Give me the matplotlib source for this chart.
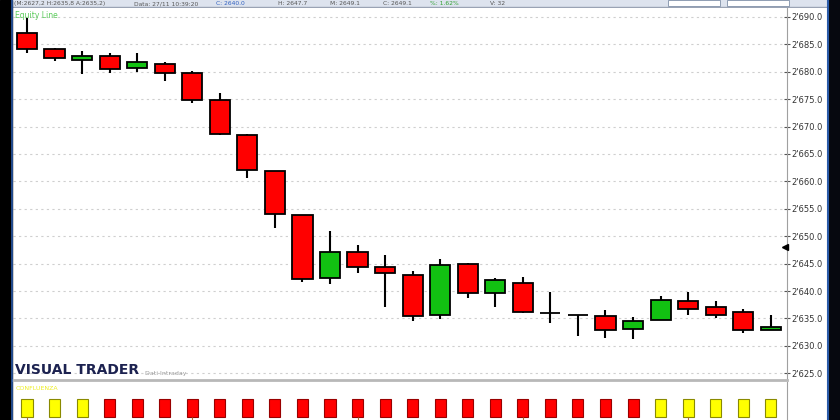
import matplotlib
matplotlib.use("Agg")
import matplotlib.pyplot as plt
from matplotlib.patches import Rectangle
from matplotlib.lines import Line2D
import matplotlib.transforms as mtransforms

# candle data (28 intraday bars)
opens  = [2687.0, 2684.1, 2682.2, 2682.9, 2680.7, 2681.5, 2679.8, 2674.9, 2668.5, 2661.9,
          2653.9, 2642.4, 2647.1, 2644.3, 2642.9, 2635.7, 2644.9, 2639.6, 2641.5, 2635.9,
          2635.7, 2635.4, 2633.1, 2634.7, 2638.2, 2637.1, 2636.1, 2632.8]
highs  = [2689.8, 2684.3, 2683.8, 2683.4, 2683.4, 2681.7, 2680.2, 2676.1, 2668.6, 2661.9,
          2653.9, 2651.0, 2648.4, 2646.5, 2643.6, 2645.9, 2645.2, 2642.4, 2642.6, 2639.9,
          2635.7, 2636.5, 2635.2, 2639.0, 2639.9, 2638.2, 2636.8, 2635.6]
lows   = [2683.5, 2682.0, 2679.6, 2679.7, 2679.9, 2678.4, 2674.3, 2668.4, 2660.7, 2651.5,
          2641.7, 2641.3, 2643.3, 2637.1, 2634.5, 2634.8, 2638.8, 2637.1, 2635.9, 2634.2,
          2631.8, 2631.4, 2631.2, 2634.7, 2635.6, 2635.1, 2632.4, 2632.8]
closes = [2684.1, 2682.5, 2682.9, 2680.6, 2681.8, 2679.7, 2674.8, 2668.6, 2662.0, 2654.1,
          2642.2, 2647.2, 2644.3, 2643.2, 2635.4, 2644.7, 2639.6, 2642.0, 2636.1, 2635.9,
          2635.7, 2632.9, 2634.5, 2638.4, 2636.8, 2635.7, 2632.9, 2633.5]

# confluenza indicator: 1 = yellow, -1 = red
confluenza = [1, 1, 1] + [-1] * 20 + [1] * 5

last_marker = 2648.0
yticks = [2625, 2630, 2635, 2640, 2645, 2650, 2655, 2660, 2665, 2670, 2675, 2680, 2685, 2690]

# header info line: (text, colour, x pixel)
header = [("(M:2627,2 H:2635,8 A:2635,2)", "#555555", 14),
          ("Data: 27/11 10:39:20", "#555555", 134),
          ("C: 2640.0", "#3060c0", 216),
          ("H: 2647.7", "#555555", 278),
          ("M: 2649.1", "#555555", 330),
          ("C: 2649.1", "#555555", 383),
          ("%: 1.62%", "#30a030", 430),
          ("V: 32", "#555555", 490)]

W, H = 840, 420
fig = plt.figure(figsize=(8.4, 4.2), dpi=100)
fig.patch.set_facecolor("white")

def fx(px):
    return px / W

def fy(py):
    return 1 - py / H

x = list(range(len(opens)))
xlim = (-0.508, 27.59)

# ---- main price panel
ax = fig.add_axes([fx(13), fy(380), fx(787 - 13), (380 - 8) / H])
ax.set_xlim(*xlim)
ax.set_ylim(2623.76, 2691.64)
ax.set_facecolor("white")
for yt in yticks:
    ax.axhline(yt, color="#cfcfcf", lw=0.8, ls=(0, (2, 3)), zorder=0)

ax.vlines(x, lows, highs, color="black", lw=1.5, zorder=2)
for i in x:
    o, c = opens[i], closes[i]
    if c < o:
        fc = "#ff0000"
    elif c > o:
        fc = "#12c212"
    else:
        fc = "black"
    ax.bar(i, abs(c - o), bottom=min(o, c), width=0.73, color=fc,
           edgecolor="black", linewidth=1.3, zorder=3)

ax.yaxis.tick_right()
ax.set_yticks(yticks)
ax.set_yticklabels(["2'%s" % f"{v:.1f}"[1:] for v in yticks])
ax.tick_params(axis="y", direction="inout", length=5, width=0.8, color="#555555",
               labelsize=6, labelcolor="#333333", pad=1)
ax.set_xticks([])
for s in ["left", "top", "bottom"]:
    ax.spines[s].set_visible(False)
ax.spines["right"].set_color("#a0a0a0")
ax.spines["right"].set_linewidth(0.8)

trans = mtransforms.blended_transform_factory(ax.transAxes, ax.transData)
ax.plot(0.997, last_marker, marker="<", color="black", markersize=4, transform=trans,
        clip_on=False, zorder=5)

fig.text(fx(15), fy(16), "Equity Line", color="#5acb5a", fontsize=5.5, va="center")
fig.text(fx(15), fy(370), "VISUAL TRADER", color="#1c2250", fontsize=10,
         fontweight="bold", va="center")
fig.text(fx(145), fy(373), "Dati Intraday", color="#999999", fontsize=4.5, va="center")

# separator between panels
fig.add_artist(Line2D([fx(13), fx(787)], [fy(380), fy(380)], color="#b8b8b8", lw=2))

# ---- confluenza panel
ax2 = fig.add_axes([fx(13), 0, fx(787 - 13), (420 - 382) / H])
ax2.set_xlim(*xlim)
ax2.set_ylim(0, 1)
colors2 = ["#ffff00" if v > 0 else "#ff0000" for v in confluenza]
edges2 = ["#8a8a00" if v > 0 else "#990000" for v in confluenza]
ax2.bar(x, [0.474] * len(x), bottom=0.079, width=0.4, color=colors2,
        edgecolor=edges2, linewidth=0.8)
ax2.vlines(x[::6], 0, 0.07, color="#b07030", lw=0.8)
ax2.text(0.003, 0.84, "CONFLUENZA", transform=ax2.transAxes, color="#eeee22",
         fontsize=4.5, va="center")
ax2.set_xticks([])
ax2.set_yticks([])
for s in ["left", "top", "bottom"]:
    ax2.spines[s].set_visible(False)
ax2.spines["right"].set_color("#a0a0a0")
ax2.spines["right"].set_linewidth(0.8)

# ---- window chrome: header strip and dark side bands
hdr = fig.add_axes([0, fy(8), 1, 8 / H])
hdr.set_xlim(0, W)
hdr.set_ylim(8, 0)
hdr.axis("off")
hdr.add_patch(Rectangle((0, 0), W, 8, color="#dde3ee"))
hdr.add_patch(Rectangle((0, 7), W, 1, color="#9aa3b4"))
for txt, col, px in header:
    hdr.text(px, 3.6, txt, fontsize=4.3, color=col, va="center")
hdr.add_patch(Rectangle((668, 0), 52, 6, facecolor="white", edgecolor="#8090a8", lw=0.6))
hdr.add_patch(Rectangle((727, 0), 62, 6, facecolor="white", edgecolor="#8090a8", lw=0.6))

fig.add_artist(Rectangle((0, 0), fx(12), 1, color="black", transform=fig.transFigure))
fig.add_artist(Line2D([fx(12), fx(12)], [0, 1], color="#2a5aa8", lw=1.2))
fig.add_artist(Rectangle((fx(828), 0), fx(12), 1, color="#06080f", transform=fig.transFigure))
fig.add_artist(Line2D([fx(828), fx(828)], [0, 1], color="#2a5aa8", lw=1.5))

fig.savefig("out.png", dpi=100)
